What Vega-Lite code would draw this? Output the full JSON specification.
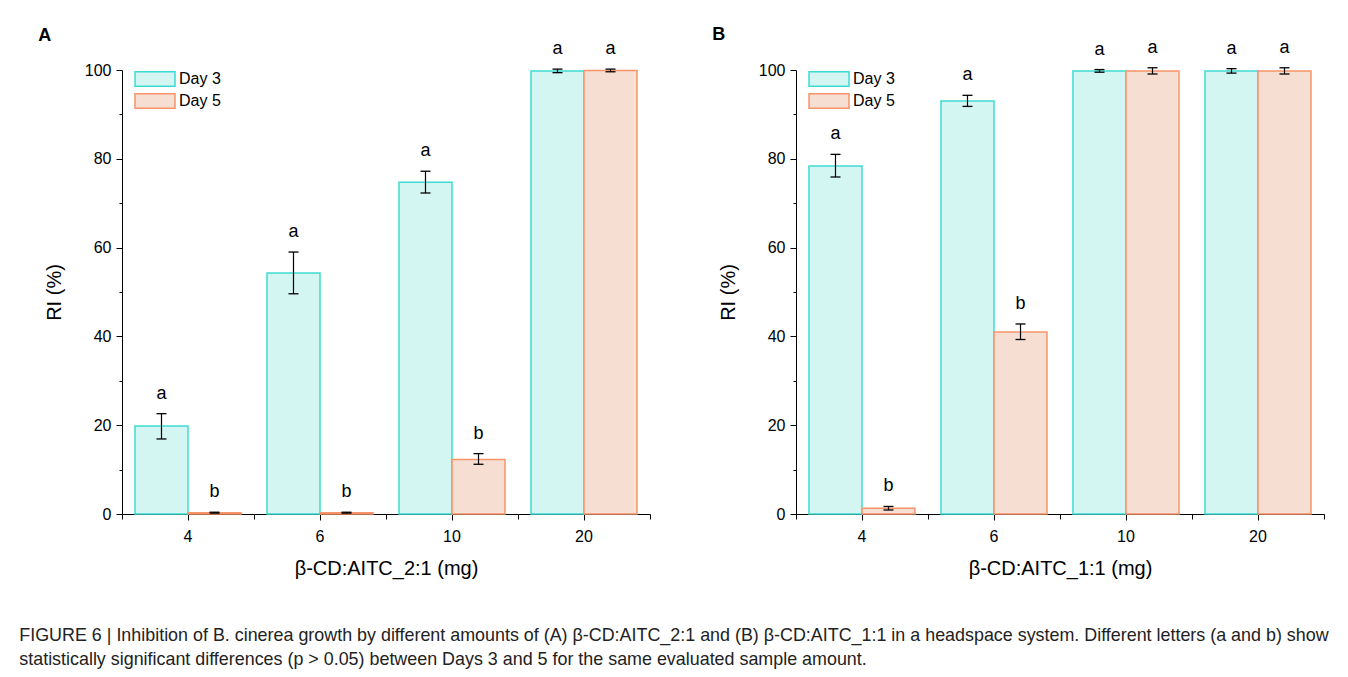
{
  "$schema": "https://vega.github.io/schema/vega-lite/v6.json",
  "padding": {"left": 19, "top": 25, "right": 10, "bottom": 8},
  "background": "white",
  "config": {
    "font": "Liberation Sans",
    "view": {"stroke": null},
    "axis": {
      "labelFont": "Liberation Sans",
      "titleFont": "Liberation Sans",
      "labelFontSize": 16,
      "titleFontSize": 20,
      "titleFontWeight": "normal",
      "labelColor": "black",
      "titleColor": "black",
      "domainColor": "black",
      "tickColor": "black",
      "domainWidth": 1,
      "tickWidth": 1,
      "grid": false
    },
    "legend": {"labelFont": "Liberation Sans", "labelFontSize": 16, "labelColor": "black"}
  },
  "title": {
    "text": [
      "FIGURE 6 | Inhibition of B. cinerea growth by different amounts of (A) β-CD:AITC_2:1 and (B) β-CD:AITC_1:1 in a headspace system. Different letters (a and b) show",
      "statistically significant differences (p > 0.05) between Days 3 and 5 for the same evaluated sample amount."
    ],
    "orient": "bottom",
    "anchor": "start",
    "font": "Liberation Sans",
    "fontSize": 17.9,
    "fontWeight": "normal",
    "color": "#222222",
    "lineHeight": 24,
    "offset": 49,
    "dx": -19
  },
  "datasets": {
    "A": [
      {"amount": 4, "day": "Day 3", "mean": 19.8, "lo": 16.9, "hi": 22.6, "letter": "a"},
      {"amount": 4, "day": "Day 5", "mean": 0.3, "lo": 0.2, "hi": 0.4, "letter": "b"},
      {"amount": 6, "day": "Day 3", "mean": 54.3, "lo": 49.6, "hi": 59.0, "letter": "a"},
      {"amount": 6, "day": "Day 5", "mean": 0.3, "lo": 0.2, "hi": 0.4, "letter": "b"},
      {"amount": 10, "day": "Day 3", "mean": 74.7, "lo": 72.3, "hi": 77.2, "letter": "a"},
      {"amount": 10, "day": "Day 5", "mean": 12.3, "lo": 11.2, "hi": 13.6, "letter": "b"},
      {"amount": 20, "day": "Day 3", "mean": 99.8, "lo": 99.4, "hi": 100.2, "letter": "a"},
      {"amount": 20, "day": "Day 5", "mean": 99.9, "lo": 99.6, "hi": 100.2, "letter": "a"}
    ],
    "B": [
      {"amount": 4, "day": "Day 3", "mean": 78.4, "lo": 75.9, "hi": 81.0, "letter": "a"},
      {"amount": 4, "day": "Day 5", "mean": 1.3, "lo": 0.9, "hi": 1.7, "letter": "b"},
      {"amount": 6, "day": "Day 3", "mean": 93.0, "lo": 91.8, "hi": 94.3, "letter": "a"},
      {"amount": 6, "day": "Day 5", "mean": 41.0, "lo": 39.3, "hi": 42.8, "letter": "b"},
      {"amount": 10, "day": "Day 3", "mean": 99.8, "lo": 99.5, "hi": 100.1, "letter": "a"},
      {"amount": 10, "day": "Day 5", "mean": 99.8, "lo": 99.1, "hi": 100.5, "letter": "a"},
      {"amount": 20, "day": "Day 3", "mean": 99.8, "lo": 99.3, "hi": 100.3, "letter": "a"},
      {"amount": 20, "day": "Day 5", "mean": 99.8, "lo": 99.1, "hi": 100.5, "letter": "a"}
    ]
  },
  "resolve": {"scale": {"fill": "independent", "stroke": "independent"}},
  "spacing": 61,
  "hconcat": [
    {
      "width": 528,
      "height": 444,
      "title": {"text": "A", "anchor": "start", "fontSize": 18, "fontWeight": "bold", "font": "Liberation Sans", "color": "black", "dx": -6, "offset": -5},
      "data": {"name": "A"},
      "encoding": {
        "x": {"field": "amount", "type": "ordinal", "scale": {"paddingInner": 0, "paddingOuter": 0}, "axis": null},
        "xOffset": {"field": "day", "type": "nominal", "scale": {"paddingInner": 0, "paddingOuter": 0.245}}
      },
      "resolve": {"axis": {"x": "independent"}},
      "layer": [
        {
          "mark": {"type": "bar", "strokeWidth": 1.5},
          "encoding": {
            "x": {"field": "amount", "type": "ordinal",
                  "axis": {"orient": "bottom", "labelAngle": 0, "tickSize": 6, "labelPadding": 8, "titlePadding": 14, "title": "β-CD:AITC_2:1 (mg)"}},
            "y": {"field": "mean", "type": "quantitative", "scale": {"domain": [0, 100], "nice": false},
                  "axis": {"title": "RI (%)", "values": [0,10,20,30,40,50,60,70,80,90,100],
                           "labelExpr": "datum.value % 20 === 0 ? datum.label : ''",
                           "tickSize": {"condition": {"test": "datum.value % 20 === 0", "value": 6}, "value": 3},
                           "labelPadding": 5, "titlePadding": 20}},
            "fill": {"field": "day", "type": "nominal", "title": null,
                     "scale": {"domain": ["Day 3", "Day 5"], "range": ["#d3f6f3", "#f6ded3"]},
                     "legend": {"orient": "none", "legendX": 12, "legendY": 0, "symbolType": "M-1,-0.9H4V0.9H-1Z", "symbolSize": 256, "symbolStrokeWidth": 1.5, "rowPadding": 0, "labelOffset": 27, "padding": 0}},
            "stroke": {"field": "day", "type": "nominal", "title": null,
                       "scale": {"domain": ["Day 3", "Day 5"], "range": ["#3edbd2", "#f8946a"]}}
          }
        },
        {"mark": {"type": "rule", "color": "black", "strokeWidth": 1.2},
         "encoding": {"y": {"field": "lo", "type": "quantitative"}, "y2": {"field": "hi"}}},
        {"mark": {"type": "tick", "color": "black", "size": 10, "thickness": 1.3, "opacity": 1},
         "encoding": {"y": {"field": "lo", "type": "quantitative"}}},
        {"mark": {"type": "tick", "color": "black", "size": 10, "thickness": 1.3, "opacity": 1},
         "encoding": {"y": {"field": "hi", "type": "quantitative"}}},
        {"mark": {"type": "text", "fontSize": 18, "color": "black", "dy": -15, "baseline": "alphabetic", "font": "Liberation Sans"},
         "encoding": {"y": {"field": "hi", "type": "quantitative"}, "text": {"field": "letter"}}},
        {"mark": {"type": "rule", "opacity": 0},
         "encoding": {"x": {"field": "amount", "type": "ordinal",
                            "axis": {"orient": "bottom", "tickBand": "extent", "labels": false, "domain": false, "title": null, "tickSize": 5}}}}
      ]
    },
    {
      "width": 528,
      "height": 444,
      "title": {"text": "B", "anchor": "start", "fontSize": 18, "fontWeight": "bold", "font": "Liberation Sans", "color": "black", "dx": -6, "offset": -5},
      "data": {"name": "B"},
      "encoding": {
        "x": {"field": "amount", "type": "ordinal", "scale": {"paddingInner": 0, "paddingOuter": 0}, "axis": null},
        "xOffset": {"field": "day", "type": "nominal", "scale": {"paddingInner": 0, "paddingOuter": 0.245}}
      },
      "resolve": {"axis": {"x": "independent"}},
      "layer": [
        {
          "mark": {"type": "bar", "strokeWidth": 1.5},
          "encoding": {
            "x": {"field": "amount", "type": "ordinal",
                  "axis": {"orient": "bottom", "labelAngle": 0, "tickSize": 6, "labelPadding": 8, "titlePadding": 14, "title": "β-CD:AITC_1:1 (mg)"}},
            "y": {"field": "mean", "type": "quantitative", "scale": {"domain": [0, 100], "nice": false},
                  "axis": {"title": "RI (%)", "values": [0,10,20,30,40,50,60,70,80,90,100],
                           "labelExpr": "datum.value % 20 === 0 ? datum.label : ''",
                           "tickSize": {"condition": {"test": "datum.value % 20 === 0", "value": 6}, "value": 3},
                           "labelPadding": 5, "titlePadding": 20}},
            "fill": {"field": "day", "type": "nominal", "title": null,
                     "scale": {"domain": ["Day 3", "Day 5"], "range": ["#d3f6f3", "#f6ded3"]},
                     "legend": {"orient": "none", "legendX": 12, "legendY": 0, "symbolType": "M-1,-0.9H4V0.9H-1Z", "symbolSize": 256, "symbolStrokeWidth": 1.5, "rowPadding": 0, "labelOffset": 27, "padding": 0}},
            "stroke": {"field": "day", "type": "nominal", "title": null,
                       "scale": {"domain": ["Day 3", "Day 5"], "range": ["#3edbd2", "#f8946a"]}}
          }
        },
        {"mark": {"type": "rule", "color": "black", "strokeWidth": 1.2},
         "encoding": {"y": {"field": "lo", "type": "quantitative"}, "y2": {"field": "hi"}}},
        {"mark": {"type": "tick", "color": "black", "size": 10, "thickness": 1.3, "opacity": 1},
         "encoding": {"y": {"field": "lo", "type": "quantitative"}}},
        {"mark": {"type": "tick", "color": "black", "size": 10, "thickness": 1.3, "opacity": 1},
         "encoding": {"y": {"field": "hi", "type": "quantitative"}}},
        {"mark": {"type": "text", "fontSize": 18, "color": "black", "dy": -15, "baseline": "alphabetic", "font": "Liberation Sans"},
         "encoding": {"y": {"field": "hi", "type": "quantitative"}, "text": {"field": "letter"}}},
        {"mark": {"type": "rule", "opacity": 0},
         "encoding": {"x": {"field": "amount", "type": "ordinal",
                            "axis": {"orient": "bottom", "tickBand": "extent", "labels": false, "domain": false, "title": null, "tickSize": 5}}}}
      ]
    }
  ]
}
